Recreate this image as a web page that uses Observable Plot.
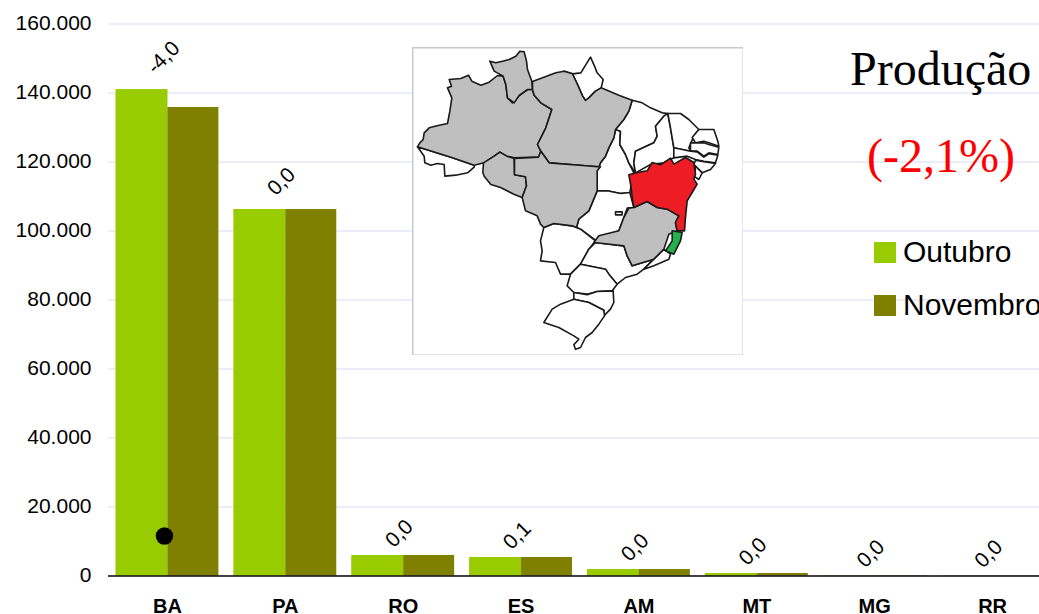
<!DOCTYPE html>
<html lang="pt">
<head>
<meta charset="utf-8">
<script src="https://cdn.jsdelivr.net/npm/d3@7"></script>
<script src="https://cdn.jsdelivr.net/npm/@observablehq/plot@0.6"></script>
<style>
html,body{margin:0;padding:0;background:#fff;overflow:hidden}
#stage{position:relative;width:1039px;height:614px;overflow:hidden;font-family:"Liberation Sans",Arial,sans-serif}
#map{position:absolute;left:412px;top:47px}
#map svg{display:block}
.t{position:absolute;white-space:nowrap;line-height:1}
.serif{font-family:"Liberation Serif","Times New Roman",serif;font-size:48px}
.lg{font-size:30px;color:#000}
.sw{position:absolute;width:22px;height:21px}
</style>
</head>
<body>
<div id="stage">
  <div id="chart"></div>
  <div id="map"></div>
  <div class="t serif" style="left:850px;top:45px;color:#000">Produção</div>
  <div class="t serif" style="left:867px;top:132px;color:#f00">(-2,1%)</div>
  <div class="sw" style="left:874px;top:242px;background:#99cc00"></div>
  <div class="t lg" style="left:903px;top:237px">Outubro</div>
  <div class="sw" style="left:874px;top:295px;background:#808000"></div>
  <div class="t lg" style="left:903px;top:290px">Novembro</div>
</div>
<script>
const states = ["BA","PA","RO","ES","AM","MT","MG","RR"];
const outubro = [141000,106230,5950,5370,1880,725,90,40];
const novembro = [135800,106230,5950,5370,1880,725,90,40];
const variacao = ["-4,0","0,0","0,0","0,1","0,0","0,0","0,0","0,0"];
const yTicks = [0,20000,40000,60000,80000,100000,120000,140000,160000];
const strayDot = [{state:"BA", value:11600}];

// Map outlines (map units, y downward)
const mapAM = [[36,318],[43,306],[53,296],[56,276],[71,261],[101,253],[126,248],[133,211],[139,171],[126,141],[138,136],[131,116],[166,113],[189,103],[199,121],[226,133],[251,124],[276,104],[293,106],[301,131],[306,171],[321,186],[341,164],[366,146],[381,146],[386,163],[406,186],[439,206],[421,261],[396,311],[406,331],[399,349],[326,351],[304,346],[283,334],[266,346],[236,366],[206,373],[141,351],[36,318]];
const mapRR = [[253,61],[271,66],[291,61],[311,56],[331,46],[343,31],[356,33],[363,61],[366,86],[379,121],[381,146],[366,146],[341,164],[326,186],[306,171],[301,131],[293,106],[266,91],[253,61]];
const mapAC = [[36,318],[141,351],[206,373],[206,379],[186,396],[151,403],[118,406],[116,371],[96,368],[76,373],[58,366],[56,346],[36,318]];
const mapRO = [[234,366],[266,346],[283,334],[304,346],[326,353],[327,402],[360,408],[363,435],[350,470],[325,460],[285,440],[256,431],[236,406],[232,395],[234,366]];
const mapPA = [[381,122],[411,111],[451,96],[476,91],[501,99],[516,131],[531,165],[540,179],[550,171],[570,151],[587,141],[640,163],[680,178],[670,211],[655,236],[630,266],[625,291],[610,321],[600,346],[585,366],[580,379],[531,374],[431,366],[406,331],[396,311],[421,261],[439,206],[406,186],[386,163],[381,146],[381,122]];
const mapAP = [[476,91],[501,99],[526,96],[555,49],[567,76],[575,96],[593,116],[587,141],[570,151],[550,171],[540,179],[531,165],[516,131],[501,99]];
const mapMT = [[327,353],[399,349],[406,331],[431,366],[531,374],[585,378],[575,390],[575,450],[550,510],[520,535],[513,560],[500,555],[445,548],[415,560],[405,550],[395,525],[360,510],[350,470],[363,435],[360,408],[327,402],[327,353]];
const mapTO = [[630,266],[645,271],[643,311],[660,341],[670,366],[685,396],[673,455],[645,458],[605,450],[575,450],[575,390],[585,366],[600,346],[610,321],[625,291],[630,266]];
const mapMA = [[680,178],[710,186],[735,201],[770,216],[787,218],[775,226],[750,256],[755,286],[745,306],[690,331],[685,366],[690,396],[670,366],[660,341],[643,311],[645,271],[630,266],[655,236],[670,211],[680,178]];
const mapPI = [[787,218],[775,226],[750,256],[755,286],[745,306],[690,331],[685,366],[690,396],[735,371],[775,366],[805,351],[805,321],[795,261],[787,218]];
const mapCE = [[787,218],[825,218],[850,236],[880,266],[865,286],[850,321],[855,331],[805,321],[795,261],[787,218]];
const mapRN = [[880,266],[925,266],[937,301],[940,316],[910,306],[895,301],[870,306],[860,290],[880,266]];
const mapPB = [[855,306],[895,306],[910,311],[940,319],[937,341],[910,336],[895,346],[875,331],[855,331],[855,306]];
const mapPE = [[805,321],[855,331],[875,333],[895,349],[910,339],[937,343],[930,366],[895,361],[870,356],[845,346],[805,351],[805,321]];
const mapAL = [[870,358],[895,363],[930,368],[915,386],[890,396],[865,371],[870,358]];
const mapSE = [[865,371],[890,396],[880,416],[865,406],[870,386],[865,371]];
const mapBA = [[670,402],[695,395],[725,390],[740,365],[765,372],[795,352],[805,370],[840,350],[865,365],[870,400],[865,415],[875,430],[860,455],[845,480],[840,530],[837,570],[815,570],[810,545],[820,525],[785,505],[755,500],[725,482],[685,500],[680,470],[677,440],[670,402]];
const mapMG = [[685,500],[725,482],[755,500],[785,505],[820,525],[810,545],[815,570],[790,580],[775,625],[745,655],[680,675],[665,645],[655,615],[565,605],[580,585],[640,570],[655,530],[670,502],[685,500]];
const mapES = [[800,570],[830,575],[825,600],[805,640],[780,630],[800,600],[800,570]];
const mapGO = [[575,450],[605,450],[645,458],[673,455],[685,500],[665,502],[655,530],[640,570],[570,598],[525,565],[513,560],[520,535],[550,510],[575,450]];
const mapDF = [[630,513],[650,513],[650,522],[630,522],[630,513]];
const mapMS = [[415,560],[405,600],[410,630],[405,660],[450,665],[465,700],[495,700],[525,670],[550,625],[570,600],[525,565],[513,560],[500,555],[445,548],[415,560]];
const mapSP = [[570,605],[655,615],[665,645],[680,675],[745,655],[715,685],[695,700],[660,710],[635,730],[610,700],[600,685],[525,670],[550,625],[570,605]];
const mapRJ = [[745,655],[775,625],[795,640],[790,655],[745,675],[715,685],[745,655]];
const mapPR = [[525,670],[600,685],[610,700],[635,730],[620,750],[575,752],[545,760],[505,755],[485,735],[495,700],[525,670]];
const mapSC = [[505,755],[545,762],[575,752],[623,750],[625,785],[615,805],[595,825],[595,808],[550,785],[505,775],[505,755]];
const mapRS = [[505,775],[550,785],[595,808],[597,825],[580,850],[560,875],[540,890],[525,920],[510,925],[505,912],[520,895],[505,885],[460,860],[415,845],[440,805],[465,790],[505,775]];

const whiteStates = {AC:mapAC,AP:mapAP,TO:mapTO,MA:mapMA,PI:mapPI,CE:mapCE,RN:mapRN,PB:mapPB,PE:mapPE,AL:mapAL,SE:mapSE,GO:mapGO,DF:mapDF,MS:mapMS,SP:mapSP,RJ:mapRJ,PR:mapPR,SC:mapSC,RS:mapRS};
const greyStates = {AM:mapAM,RR:mapRR,PA:mapPA,RO:mapRO,MT:mapMT,MG:mapMG};
const redStates = {BA:mapBA};
const greenStates = {ES:mapES};

const serie = (values) => states.map((s,i)=>({state:s, value:values[i]}));
const tops = states.map((s,i)=>({state:s, top:Math.max(outubro[i],novembro[i]), label:variacao[i]}));
const fmt = d => d3.format(",")(d).replace(/,/g,".");

const labelMark = (names, dy, dx) => Plot.text(tops.filter(d=>names.includes(d.state)),{
  x:"state", y:"top", text:"label", rotate:-45, dy, dx, fontSize:21, fill:"#000", textAnchor:"middle"
});

const chart = Plot.plot({
  width:1039, height:614,
  marginLeft:108, marginRight:-12, marginTop:23.5, marginBottom:38.5,
  style:{fontFamily:'"Liberation Sans",Arial,sans-serif', color:"#000", background:"transparent"},
  x:{type:"band", domain:states, paddingInner:0.127, paddingOuter:0.0635, label:null, round:false},
  y:{domain:[0,160000], label:null},
  marks:[
    Plot.ruleY(yTicks.filter(d=>d>0),{stroke:"#d9d9f5", strokeWidth:1}),
    Plot.axisY({ticks:yTicks, tickFormat:fmt, tickSize:0, tickPadding:17, dy:-1, fontSize:21, label:null}),
    Plot.axisX({tickSize:0, tickPadding:23, fontSize:20, fontWeight:"bold", label:null}),
    Plot.barY(serie(outubro),{x:"state", y:"value", fill:"#99cc00", insetRight:50.9}),
    Plot.barY(serie(novembro),{x:"state", y:"value", fill:"#808000", insetLeft:51.9}),
    Plot.ruleY([0],{stroke:"#000", strokeWidth:1.5}),
    labelMark(["BA"],-32,-4),
    labelMark(["PA"],-28,-4),
    labelMark(["RO","ES","AM","MT","MG","RR"],-22,-4),
    Plot.dot(strayDot,{x:"state", y:"value", r:8.7, fill:"#000", dx:-3})
  ]
});
document.getElementById("chart").append(chart);

const outline = (group, fill) => Plot.line(
  Object.entries(group).flatMap(([name,pts])=>pts.map(([x,y])=>({name,x,y}))),
  {x:"x", y:"y", z:"name", fill, stroke:"#1a1a1a", strokeWidth:1.6, strokeLinejoin:"round"}
);
const mapPlot = Plot.plot({
  width:331, height:308, margin:0,
  style:{background:"#fff"},
  x:{domain:[21,1014], axis:null},
  y:{domain:[944,20], axis:null},
  marks:[
    Plot.frame({stroke:"#c6c8d6", strokeWidth:2}),
    outline(whiteStates,"#fff"),
    outline(greyStates,"#bfbfbf"),
    outline(redStates,"#ee1c25"),
    outline(greenStates,"#22b14c")
  ]
});
document.getElementById("map").append(mapPlot);
</script>
</body>
</html>
